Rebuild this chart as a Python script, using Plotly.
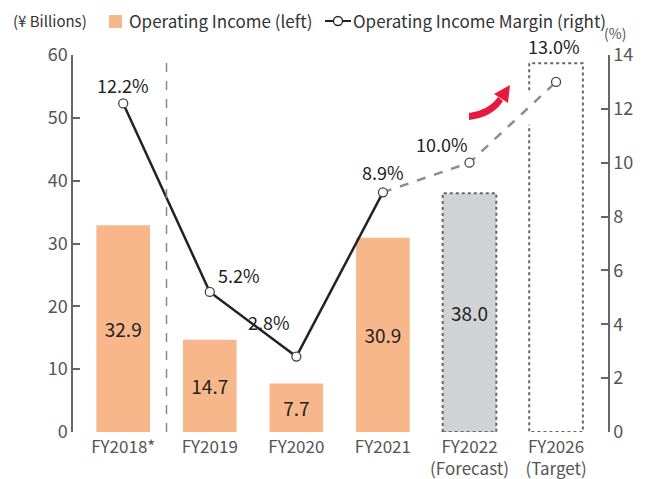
import plotly.graph_objects as go

# ---- data ----
categories = ["FY2018*", "FY2019", "FY2020", "FY2021", "FY2022<br>(Forecast)", "FY2026<br>(Target)"]
income_actual = [32.9, 14.7, 7.7, 30.9]          # ¥ billions, FY2018-FY2021
income_forecast = 38.0                              # FY2022 forecast
income_target_box = 58.7                            # height of FY2026 target frame
margin = [12.2, 5.2, 2.8, 8.9, 10.0, 13.0]          # %
margin_labels = ["12.2%", "5.2%", "2.8%", "8.9%", "10.0%", "13.0%"]
left_ticks = [0, 10, 20, 30, 40, 50, 60]
right_ticks = [0, 2, 4, 6, 8, 10, 12, 14]

# ---- styling ----
FONT = "Noto Sans CJK JP"
ORANGE = "#F8B78A"
GREY_BAR = "#D1D2D4"
AXIS = "#666666"
TXT = "#222222"
TICK_TXT = "#555555"
BAR_W = 0.62
DOT_LINE = dict(color="#666666", width=2, dash="dot")

# plot area in pixels (for helper conversion of decorations)
L, R, T, B = 73, 608, 55, 432
W, H = 648, 479
xs = list(range(len(categories)))


def px(x):
    return (x - L) / (R - L)


def py(y):
    return (B - y) / (B - T)


fig = go.Figure()

# operating income bars (actual)
fig.add_trace(go.Bar(
    x=xs[:4], y=income_actual, width=BAR_W, marker=dict(color=ORANGE, line=dict(width=0)),
    text=[f"{v:.1f}" for v in income_actual], textposition="inside", insidetextanchor="middle",
    textfont=dict(family=FONT, size=19, color=TXT), yaxis="y", showlegend=False,
    hoverinfo="skip",
))
# forecast bar
fig.add_trace(go.Bar(
    x=[xs[4]], y=[income_forecast], width=BAR_W, marker=dict(color=GREY_BAR, line=dict(width=0)),
    text=[f"{income_forecast:.1f}"], textposition="inside", insidetextanchor="middle",
    textfont=dict(family=FONT, size=19, color=TXT), yaxis="y", showlegend=False,
    hoverinfo="skip",
))

# dotted frame for the forecast bar
fig.add_shape(type="rect", xref="x", yref="y", x0=xs[4] - BAR_W / 2, x1=xs[4] + BAR_W / 2,
              y0=0, y1=income_forecast, line=DOT_LINE, fillcolor="rgba(0,0,0,0)", layer="above")

# dotted frame for the target, left edge left open where the arrow points in
tl, tr = xs[5] - BAR_W / 2, xs[5] + BAR_W / 2
gap_lo, gap_hi = 48.9, 54.4
target_path = (f"M {tl},{gap_hi} L {tl},{income_target_box} L {tr},{income_target_box} "
               f"L {tr},0 L {tl},0 L {tl},{gap_lo}")
fig.add_shape(type="path", xref="x", yref="y", path=target_path, line=DOT_LINE, layer="above")

# separator between FY2018 and FY2019
fig.add_shape(type="line", xref="x", yref="paper", x0=0.5, x1=0.5, y0=0, y1=1,
              line=dict(color="#888888", width=1.5, dash="dash"))

# margin line: actual (solid) and outlook (dashed)
fig.add_trace(go.Scatter(
    x=xs[:4], y=margin[:4], yaxis="y2", mode="lines",
    line=dict(color=TXT, width=2.5), showlegend=False, hoverinfo="skip",
))
fig.add_trace(go.Scatter(
    x=xs[3:], y=margin[3:], yaxis="y2", mode="lines",
    line=dict(color="#8C8C8C", width=2.5, dash="dash"), showlegend=False, hoverinfo="skip",
))
fig.add_trace(go.Scatter(
    x=xs, y=margin, yaxis="y2", mode="markers",
    marker=dict(symbol="circle", size=9, color="white", line=dict(color="#444444", width=1.3)),
    showlegend=False, hoverinfo="skip",
))

# margin labels
offsets = [(0, 18), (29, 17), (-27, 35), (0, 20), (-27, 19), (-2, 36)]
for xi, v, lab, (dx, dy) in zip(xs, margin, margin_labels, offsets):
    fig.add_annotation(x=xi, y=v, xref="x", yref="y2", text=lab, showarrow=False,
                       xshift=dx, yshift=dy, font=dict(family=FONT, size=18, color=TXT))

# red upward arrow
RED = "#E8193C"
body = (f"M {px(469)},{py(113)} Q {px(489)},{py(110)} {px(498)},{py(97)} "
        f"L {px(503)},{py(101)} Q {px(493)},{py(117)} {px(469)},{py(120)} Z")
fig.add_shape(type="path", xref="paper", yref="paper", path=body, fillcolor=RED, line=dict(width=0))
head = f"M {px(494)},{py(94)} L {px(510)},{py(85)} L {px(508)},{py(103)} Z"
fig.add_shape(type="path", xref="paper", yref="paper", path=head, fillcolor=RED, line=dict(width=0))

# header: unit + legend
HDR = dict(family=FONT, size=17, color="#333333")
fig.add_annotation(x=px(11), y=py(21), xref="paper", yref="paper", xanchor="left", yanchor="middle",
                   text="(¥ Billions)", showarrow=False, font=dict(family=FONT, size=15, color="#333333"))
fig.add_shape(type="rect", xref="paper", yref="paper", x0=px(109), x1=px(122), y0=py(28), y1=py(15),
              fillcolor=ORANGE, line=dict(width=0))
fig.add_annotation(x=px(127), y=py(21), xref="paper", yref="paper", xanchor="left", yanchor="middle",
                   text="Operating Income (left)", showarrow=False, font=HDR)
fig.add_shape(type="line", xref="paper", yref="paper", x0=px(325), x1=px(351), y0=py(21), y1=py(21),
              line=dict(color=TXT, width=2))
fig.add_shape(type="circle", xref="paper", yref="paper", x0=px(333.5), x1=px(342.5), y0=py(25.5),
              y1=py(16.5), fillcolor="white", line=dict(color=TXT, width=1.3))
fig.add_annotation(x=px(351), y=py(21), xref="paper", yref="paper", xanchor="left", yanchor="middle",
                   text="Operating Income Margin (right)", showarrow=False, font=HDR)
fig.add_annotation(x=px(628), y=py(33), xref="paper", yref="paper", yanchor="middle", text="(%)",
                   showarrow=False, font=dict(family=FONT, size=14, color=TICK_TXT))

fig.update_layout(
    width=W, height=H,
    margin=dict(l=L, r=W - R, t=T, b=H - B),
    paper_bgcolor="white", plot_bgcolor="white",
    showlegend=False, barmode="overlay",
    font=dict(family=FONT, color=TICK_TXT),
    xaxis=dict(range=[-0.58, 5.6], tickvals=xs, ticktext=categories, showgrid=False, zeroline=False,
               showline=False, ticks="", tickangle=0, automargin=False, ticklabelstandoff=3,
               tickfont=dict(family=FONT, size=17, color=TICK_TXT)),
    yaxis=dict(range=[0, 60], tickvals=left_ticks, showgrid=False, zeroline=False, showline=True,
               linecolor=AXIS, linewidth=1.5, ticks="inside", ticklen=7, tickcolor=AXIS, tickwidth=1.5,
               automargin=False, tickfont=dict(family=FONT, size=18, color=TICK_TXT)),
    yaxis2=dict(range=[0, 14], tickvals=right_ticks, overlaying="y", side="right", showgrid=False,
                zeroline=False, showline=True, linecolor=AXIS, linewidth=1.5, ticks="inside", ticklen=7,
                tickcolor=AXIS, tickwidth=1.5, automargin=False,
                tickfont=dict(family=FONT, size=18, color=TICK_TXT)),
)

fig.write_html("out.html")
